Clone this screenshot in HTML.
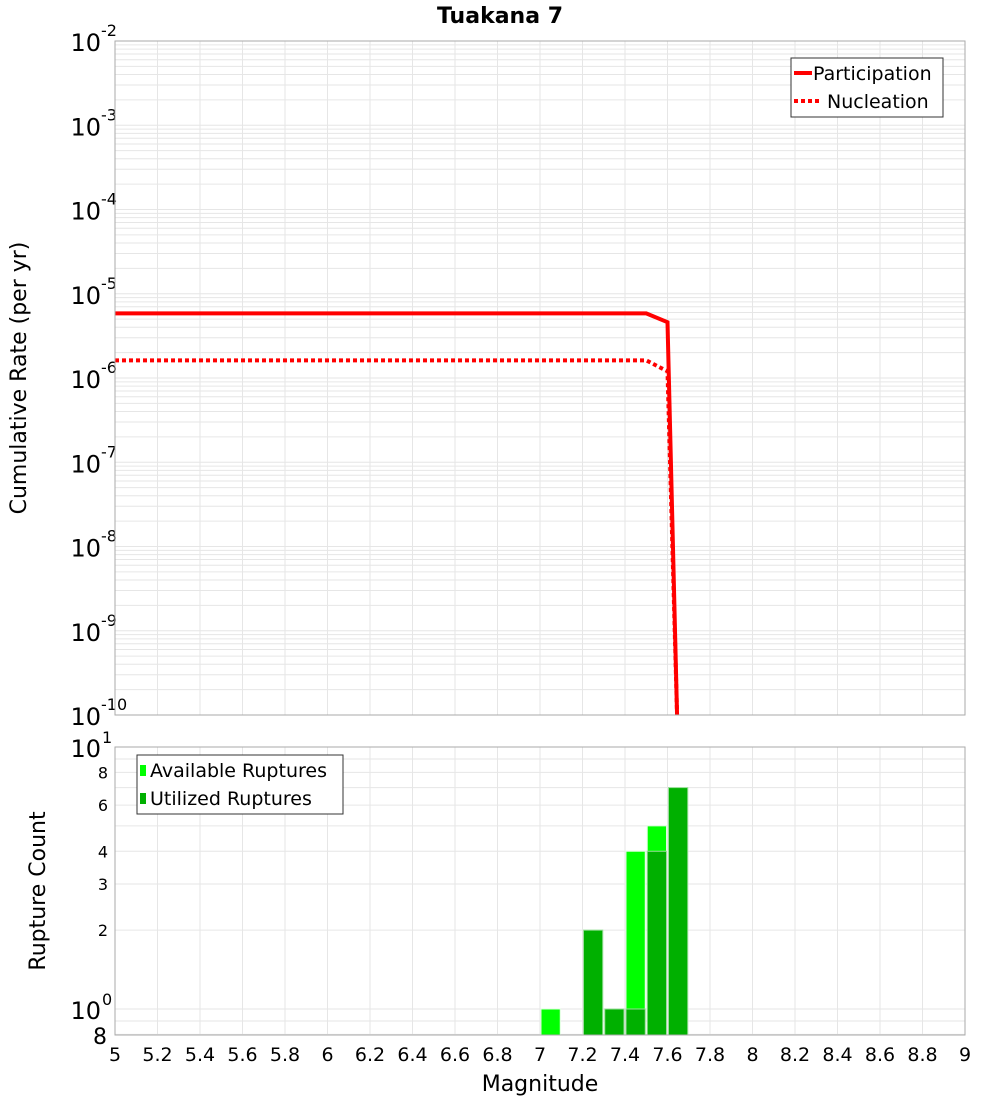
<!DOCTYPE html>
<html><head><meta charset="utf-8"><style>
body{margin:0;background:#fff;width:1000px;height:1100px;overflow:hidden}
svg{font-family:"DejaVu Sans","Liberation Sans",sans-serif}
</style></head><body>
<svg id="c" width="1000" height="1100" xmlns="http://www.w3.org/2000/svg">
<text x="500" y="23" text-anchor="middle" font-size="22" font-weight="bold">Tuakana 7</text>
<g id="topg"></g><g id="botg"></g>
<text transform="translate(26,378) rotate(-90)" text-anchor="middle" font-size="22">Cumulative Rate (per yr)</text>
<text transform="translate(45,891) rotate(-90)" text-anchor="middle" font-size="22">Rupture Count</text>
<text x="540" y="1091" text-anchor="middle" font-size="22">Magnitude</text>
</svg>
<script>
const partMag=[5,7.5,7.6,7.645];
const partRate=[5.85e-6,5.85e-6,4.6e-6,1e-10];
const nuclMag=[5,7.5,7.6,7.645];
const nuclRate=[1.62e-6,1.62e-6,1.2e-6,1e-10];
const binMag=[7.05,7.25,7.35,7.45,7.55,7.65];
const availCount=[1,2,1,4,5,7];
const usedCount=[0,2,1,1,4,7];
const xTicks=[5,5.2,5.4,5.6,5.8,6,6.2,6.4,6.6,6.8,7,7.2,7.4,7.6,7.8,8,8.2,8.4,8.6,8.8,9];
const topDecades=[-2,-3,-4,-5,-6,-7,-8,-9,-10];
const botTicks=[2,3,4,6,8];

const NS="http://www.w3.org/2000/svg";
const L=115,R=965;
const X=m=>L+(m-5)/4*(R-L);
const T0=41,T1=715;
const YT=v=>T0+(-2-Math.log10(v))*(T1-T0)/8;
const B0=747,B1=1035;
const YB=v=>747+(1-Math.log10(v))*262;
function mk(p,t,a){const e=document.createElementNS(NS,t);for(const k in a)e.setAttribute(k,a[k]);p.appendChild(e);return e;}
const topG=document.getElementById('topg'),botG=document.getElementById('botg');
for(let d=-10;d<-2;d++)for(let k=1;k<10;k++){const y=YT(k*Math.pow(10,d));
 const g=mk(topG,'line',{x1:L,x2:R,y1:y,y2:y,stroke:'#e6e6e6','stroke-width':1});
 
 }
xTicks.forEach(m=>{const g=mk(topG,'line',{x1:X(m),x2:X(m),y1:T0,y2:T1,stroke:'#e6e6e6'});
 
 
 const h=mk(botG,'line',{x1:X(m),x2:X(m),y1:B0,y2:B1,stroke:'#e6e6e6'});
 
 });
topDecades.forEach(d=>{const y=YT(Math.pow(10,d));
 const t=mk(topG,'text',{x:101,y:y+10,'text-anchor':'end','font-size':24});t.textContent='10';
 
 
 const s=mk(topG,'text',{x:101,y:y-5,'font-size':16});s.textContent=String(d);
 
 });
const clip=mk(topG,'clipPath',{id:'cp'});mk(clip,'rect',{x:L,y:T0,width:R-L,height:T1-T0+2});
const pl=mk(topG,'polyline',{points:partMag.map((m,i)=>X(m)+','+YT(partRate[i])).join(' '),fill:'none',stroke:'#ff0000','stroke-width':4,'clip-path':'url(#cp)'});


const nl=mk(topG,'polyline',{points:nuclMag.map((m,i)=>X(m)+','+YT(nuclRate[i])).join(' '),fill:'none',stroke:'#ff0000','stroke-width':4,'stroke-dasharray':'4,3','clip-path':'url(#cp)'});


const tb=mk(topG,'rect',{x:L,y:T0,width:R-L,height:T1-T0,fill:'none',stroke:'#aaa'});


const lg=mk(topG,'g',{});


mk(lg,'rect',{x:791,y:58,width:152,height:59,fill:'#fff',stroke:'#333'});
mk(lg,'line',{x1:794,x2:812,y1:73,y2:73,stroke:'#f00','stroke-width':4});
mk(lg,'line',{x1:794,x2:822,y1:101,y2:101,stroke:'#f00','stroke-width':4,'stroke-dasharray':'4,3'});
let t1=mk(lg,'text',{x:813,y:80,'font-size':19});t1.textContent='Participation';
let t2=mk(lg,'text',{x:827,y:108,'font-size':19});t2.textContent='Nucleation';
[0.8,0.9,1,2,3,4,5,6,7,8,9,10].forEach(v=>{const y=YB(v);
 const g=mk(botG,'line',{x1:L,x2:R,y1:y,y2:y,stroke:'#e6e6e6'});
 
 });
const bw=(X(5.1)-X(5))-1;
binMag.forEach((m,i)=>{const x0=X(m-0.05)+1;
 if(availCount[i]>0){const r=mk(botG,'rect',{x:x0,y:YB(availCount[i]),width:bw-1,height:B1-YB(availCount[i]),fill:'#00ff00',stroke:'#dfd','stroke-width':1});
 
 }
 if(usedCount[i]>0){const r=mk(botG,'rect',{x:x0,y:YB(usedCount[i]),width:bw-1,height:B1-YB(usedCount[i]),fill:'#00b000',stroke:'#9d9','stroke-width':1});
 
 }});
const bb=mk(botG,'rect',{x:L,y:B0,width:R-L,height:B1-B0,fill:'none',stroke:'#aaa'});


[[10,'1'],[1,'0']].forEach(([v,e])=>{const y=YB(v);
 const t=mk(botG,'text',{x:101,y:y+10,'text-anchor':'end','font-size':24});t.textContent='10';
 
 
 const s=mk(botG,'text',{x:102,y:y-4,'font-size':16});s.textContent=e;
 
 });
botTicks.forEach(v=>{const t=mk(botG,'text',{x:108,y:YB(v)+6,'text-anchor':'end','font-size':16});t.textContent=v;
 
 });
let b8=mk(botG,'text',{x:107,y:1044,'text-anchor':'end','font-size':22});b8.textContent='8';


xTicks.forEach(m=>{const t=mk(botG,'text',{x:X(m),y:1061,'text-anchor':'middle','font-size':19});t.textContent=String(m);
 
 });
const bl=mk(botG,'g',{});


mk(bl,'rect',{x:137,y:755,width:206,height:59,fill:'#fff',stroke:'#333'});
mk(bl,'rect',{x:140,y:765,width:6,height:11,fill:'#00ff00'});
mk(bl,'rect',{x:140,y:793,width:6,height:11,fill:'#00b000'});
let a=mk(bl,'text',{x:150,y:777,'font-size':19});a.textContent='Available Ruptures';
let u=mk(bl,'text',{x:150,y:805,'font-size':19});u.textContent='Utilized Ruptures';
</script>
</body></html>
